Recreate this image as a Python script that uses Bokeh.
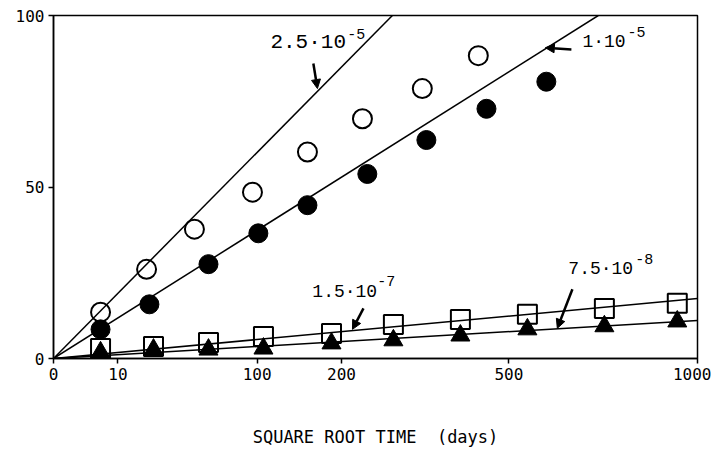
import numpy as np
from bokeh.plotting import figure
from bokeh.models import Arrow, NormalHead, Label, FixedTicker, Range1d
from bokeh.embed import file_html
from bokeh.resources import INLINE

# ---- data (x in sqrt(days), y in percent) ----
tick_days = [0, 10, 100, 200, 500, 1000]
y_ticks = [0, 50, 100]

open_circle_x = [2.31, 4.57, 6.92, 9.77, 12.47, 15.17, 18.11, 20.86]
open_circle_y = [13.5, 26.0, 37.7, 48.5, 60.2, 69.9, 78.7, 88.3]

filled_circle_x = [2.31, 4.71, 7.61, 10.06, 12.47, 15.41, 18.31, 21.26, 24.20]
filled_circle_y = [8.5, 15.8, 27.5, 36.5, 44.7, 53.8, 63.7, 72.8, 80.7]

square_x = [2.31, 4.91, 7.61, 10.31, 13.65, 16.69, 19.98, 23.27, 27.05, 30.63]
square_y = [2.9, 3.5, 4.7, 6.4, 7.3, 9.9, 11.4, 12.9, 14.6, 16.1]

triangle_x = [2.31, 4.91, 7.61, 10.31, 13.65, 16.69, 19.98, 23.27, 27.05, 30.63]
triangle_y = [1.8, 2.6, 2.6, 2.9, 4.4, 5.3, 6.7, 8.5, 9.4, 10.8]

# fitted lines from the origin: end points
line_end_x = [16.64, 26.75, 31.62, 31.62]
line_end_y = [100.0, 100.0, 17.5, 11.1]

# annotation labels (mantissa, exponent)
coef_text = ["2.5\u00b710", "1\u00b710", "1.5\u00b710", "7.5\u00b710"]
coef_exp = ["-5", "-5", "-7", "-8"]
coef_text_pos = [(10.65, 92.1), (25.97, 92.4), (12.71, 19.3), (25.28, 26.0)]
coef_exp_pos = [(14.43, 94.6), (28.18, 95.2), (15.90, 22.7), (28.57, 28.9)]
arrow_start = [(12.76, 86.0), (25.43, 90.1), (15.22, 14.6), (25.48, 20.2)]
arrow_end = [(12.96, 78.7), (24.15, 90.6), (14.68, 8.5), (24.74, 8.8)]
coef_size = ["21px", "18px", "18px", "18px"]

xmax = float(np.sqrt(1000))

p = figure(frame_width=644, frame_height=343, output_backend="svg", toolbar_location=None,
           x_range=Range1d(0, xmax), y_range=Range1d(0, 100),
           min_border_left=53, min_border_right=14, min_border_top=15,
           min_border_bottom=0)
p.background_fill_color = "white"
p.border_fill_color = "white"
p.outline_line_color = "black"
p.outline_line_width = 1.5
p.grid.visible = False

tick_pos = [float(np.sqrt(d)) for d in tick_days]
p.xaxis.ticker = FixedTicker(ticks=tick_pos)
p.xaxis.major_label_overrides = {tp: str(d) for tp, d in zip(tick_pos, tick_days)}
p.yaxis.ticker = FixedTicker(ticks=y_ticks)
for ax in (p.xaxis, p.yaxis):
    ax.axis_line_color = "black"
    ax.axis_line_width = 1.5
    ax.major_tick_line_width = 1.5
    ax.major_tick_in = 0
    ax.major_tick_out = 5
    ax.minor_tick_line_color = None
    ax.major_label_text_font = "DejaVu Sans Mono"
    ax.major_label_text_font_size = "16px"
    ax.major_label_text_color = "black"
p.xaxis.major_label_standoff = 4
p.yaxis.major_label_standoff = 4
p.xaxis.axis_label = "SQUARE ROOT TIME\u00a0 (days)"
p.xaxis.axis_label_text_font = "DejaVu Sans Mono"
p.xaxis.axis_label_text_font_size = "17px"
p.xaxis.axis_label_text_font_style = "normal"
p.xaxis.axis_label_text_color = "black"
p.xaxis.axis_label_standoff = 44

# fitted lines
for ex, ey in zip(line_end_x, line_end_y):
    p.line([0, ex], [0, ey], line_color="black", line_width=1.5)

# markers
p.scatter(open_circle_x, open_circle_y, marker="circle", size=19,
          fill_alpha=0, line_color="black", line_width=2)
p.scatter(filled_circle_x, filled_circle_y, marker="circle", size=19,
          fill_color="black", line_color="black")
p.scatter(square_x, square_y, marker="square", size=19,
          fill_alpha=0, line_color="black", line_width=2)
p.scatter(triangle_x, triangle_y, marker="triangle", size=19,
          fill_color="black", line_color="black")

# annotations
for txt, ex, tp, epos, a0, a1, fs in zip(coef_text, coef_exp, coef_text_pos,
                                         coef_exp_pos, arrow_start, arrow_end, coef_size):
    p.add_layout(Label(x=tp[0], y=tp[1], text=txt, text_font="Liberation Mono",
                       text_font_size=fs, text_baseline="middle", text_align="left",
                       text_color="black"))
    p.add_layout(Label(x=epos[0], y=epos[1], text=ex, text_font="Liberation Mono",
                       text_font_size="15px", text_baseline="middle", text_align="left",
                       text_color="black"))
    p.add_layout(Arrow(x_start=a0[0], y_start=a0[1], x_end=a1[0], y_end=a1[1],
                       line_width=2.5, line_color="black",
                       end=NormalHead(size=9, fill_color="black", line_color="black")))

open("out.html", "w").write(file_html(p, INLINE))
